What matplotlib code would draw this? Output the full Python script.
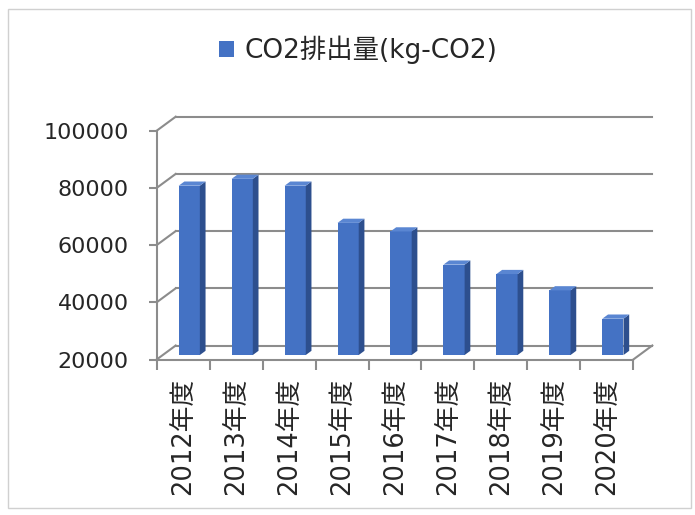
import matplotlib
matplotlib.use("Agg")
import matplotlib.pyplot as plt
from matplotlib.patches import Polygon, Rectangle

plt.rcParams['font.family'] = ['DejaVu Sans', 'Noto Sans CJK JP']

years = ["2012年度", "2013年度", "2014年度", "2015年度", "2016年度",
         "2017年度", "2018年度", "2019年度", "2020年度"]
co2 = [79200, 81600, 79200, 66200, 63200, 51600, 48300, 42600, 32700]
yticks = [20000, 40000, 60000, 80000, 100000]
label = "CO2排出量(kg-CO2)"

front = "#4472C4"
side = "#2D4F8E"
top = "#5A86D2"
grid = "#8C8C8C"
text = "#262626"

W, H = 695, 515
fig = plt.figure(figsize=(W / 100, H / 100), dpi=100)

# fake 3D: depth offset of the back wall, in data units
n = len(years)
ddx = 19 / 52.96
ddy = 14 * 80000 / 228.8
ymin, ymax = yticks[0], yticks[-1]

left_px, floor_px, top_px = 156.7, 359.5, 116.7
ax_w = (633.3 - 156.7) + 19
ax = fig.add_axes([left_px / W, (H - floor_px) / H, ax_w / W, (floor_px - top_px) / H])
ax.set_xlim(0, n + ddx)
ax.set_ylim(ymin, ymax + ddy)
for s in ax.spines.values():
    s.set_visible(False)

# back wall grid + left wall diagonals
for v in yticks:
    ax.plot([ddx, n + ddx], [v + ddy, v + ddy], color=grid, lw=1.5, zorder=1, clip_on=False)
    ax.plot([0, ddx], [v, v + ddy], color=grid, lw=1.5, zorder=1, clip_on=False)
# floor outline and front left axis
ax.plot([0, n], [ymin, ymin], color=grid, lw=1.5, zorder=1, clip_on=False)
ax.plot([n, n + ddx], [ymin, ymin + ddy], color=grid, lw=1.5, zorder=1, clip_on=False)
ax.plot([0, 0], [ymin, ymax], color=grid, lw=1.5, zorder=1, clip_on=False)

# bars
d0, bd, bw = 0.32, 0.3, 0.4
centers = [i + 0.5 + d0 * ddx for i in range(n)]
base = ymin + d0 * ddy
ax.bar(centers, [v - ymin for v in co2], width=bw, bottom=base, color=front,
       zorder=3, label=label)
for c, v in zip(centers, co2):
    xl, xr = c - bw / 2, c + bw / 2
    vt = v + d0 * ddy
    ox, oy = bd * ddx, bd * ddy
    ax.add_patch(Polygon([(xr, base), (xr, vt), (xr + ox, vt + oy), (xr + ox, base + oy)],
                         closed=True, color=side, zorder=3, lw=0))
    ax.add_patch(Polygon([(xl, vt), (xr, vt), (xr + ox, vt + oy), (xl + ox, vt + oy)],
                         closed=True, color=top, zorder=3, lw=0))

# ticks
ax.set_yticks(yticks)
ax.set_yticklabels([str(v) for v in yticks], fontsize=16, color=text)
ax.tick_params(axis='y', length=6, width=1.5, color=grid, pad=14)
ax.set_xticks([i + 0.5 for i in range(n)])
ax.set_xticklabels(years, rotation=90, fontsize=18.5, color=text)
ax.set_xticks(range(n + 1), minor=True)
ax.tick_params(axis='x', which='major', length=0, pad=13)
ax.tick_params(axis='x', which='minor', length=7, width=1.5, color=grid)

fig.legend(loc='center', bbox_to_anchor=(358 / W, 1 - 50 / H), frameon=False,
           fontsize=19, handlelength=0.55, handleheight=0.55, handletextpad=0.4,
           labelcolor=text)

fig.patches.append(Rectangle((8 / W, 7 / H), 683 / W, 499 / H, transform=fig.transFigure,
                             fill=False, edgecolor="#D0D0D0", lw=1))

fig.savefig("out.png", dpi=100)
